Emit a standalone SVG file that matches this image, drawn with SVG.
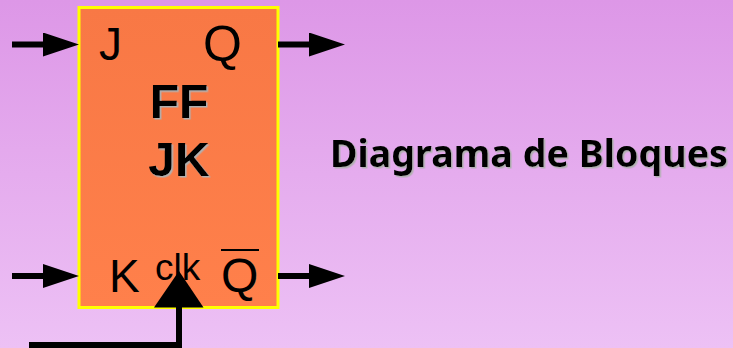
<svg xmlns="http://www.w3.org/2000/svg" width="733" height="348" viewBox="0 0 733 348">
<defs>
<linearGradient id="bg" x1="0" y1="0" x2="0" y2="1"><stop offset="0" stop-color="#dd97e7"/><stop offset="1" stop-color="#edc1f5"/></linearGradient>
<linearGradient id="box" x1="0" y1="0" x2="0" y2="1"><stop offset="0" stop-color="#f87845"/><stop offset="1" stop-color="#ff804b"/></linearGradient>
<filter id="shadow" x="-10%" y="-10%" width="120%" height="130%"><feDropShadow dx="1.500" dy="1.500" stdDeviation="0.300" flood-color="#b0b0b0"/></filter>
<marker id="arrow" markerUnits="userSpaceOnUse" markerWidth="36" markerHeight="24" refX="0" refY="12" orient="auto"><path d="M0 0L36 12L0 24Z" fill="#000"/></marker>
</defs>
<style>
.w{stroke:#000;stroke-width:6;fill:none}
.l{font-family:"Liberation Sans",Arial,sans-serif;fill:#000}
.b{font-family:"Liberation Sans",Arial,sans-serif;font-weight:bold;font-size:48px;text-anchor:middle;fill:#000;filter:url(#shadow)}
.t{font-family:"Noto Sans","Open Sans",sans-serif;font-weight:bold;font-size:37.500px;fill:#000;filter:url(#shadow)}
</style>
<rect width="733" height="348" fill="url(#bg)"/>
<g id="block">
<rect x="79" y="7.500" width="199" height="300" fill="url(#box)" stroke="#ffff00" stroke-width="3"/>
<text class="l" x="99" y="60" font-size="46">J</text>
<text class="l" x="203" y="61" font-size="50">Q</text>
<text class="b" x="179" y="118">FF</text>
<text class="b" x="179" y="176">JK</text>
<text class="l" x="109" y="292" font-size="46">K</text>
<text class="l" x="155" y="280" font-size="37">clk</text>
<text class="l" x="221" y="292" font-size="48">Q</text>
<rect x="221" y="249" width="38" height="2" fill="#000"/>
</g>
<g id="connectors">
<path class="w" d="M12 44.500H43" marker-end="url(#arrow)"/>
<path class="w" d="M278 44.500H309" marker-end="url(#arrow)"/>
<path class="w" d="M12 276H43" marker-end="url(#arrow)"/>
<path class="w" d="M278 276H309" marker-end="url(#arrow)"/>
<path class="w" d="M29 345H179V307"/>
<path d="M154 307.500L179 271L203.500 307.500Z" fill="#000"/>
</g>
<g id="title">
<text class="t" x="330" y="167" textLength="398" lengthAdjust="spacingAndGlyphs">Diagrama de Bloques</text>
</g>
</svg>
